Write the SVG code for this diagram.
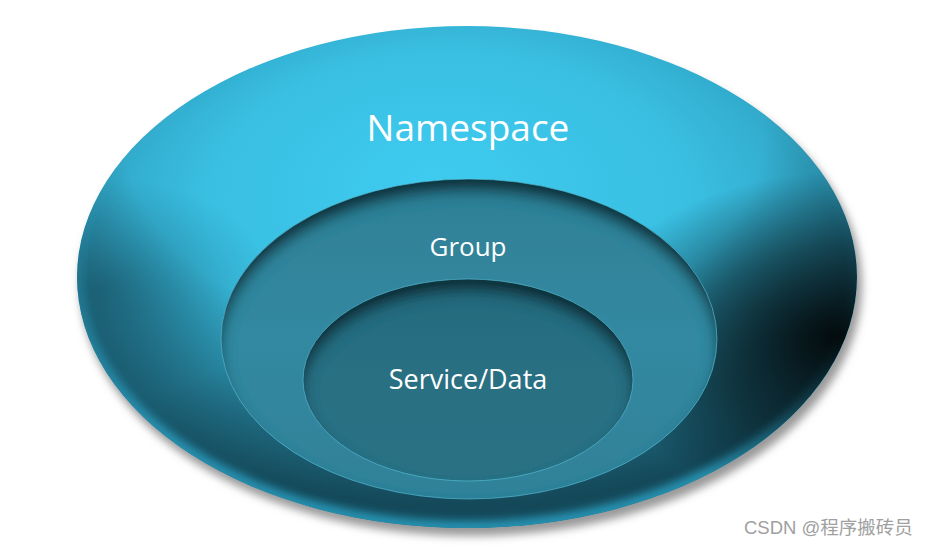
<svg xmlns="http://www.w3.org/2000/svg" width="932" height="548" viewBox="0 0 932 548">
<style>
.lbl{font-family:"Open Sans","Noto Sans","Liberation Sans",sans-serif;fill:#ffffff;text-anchor:middle}
.wm{font-family:"Liberation Sans","Noto Sans CJK SC",sans-serif;font-size:18.5px;fill:#a0a0a0}
</style>
<defs>
<clipPath id="outerClip"><ellipse cx="467" cy="277" rx="390" ry="251"/></clipPath>
<radialGradient id="outerFill" cx="0.5" cy="0.42" r="0.62" fx="0.45" fy="0.3">
<stop offset="0" stop-color="#3ECBF0"/>
<stop offset="0.5" stop-color="#39BFE2"/>
<stop offset="0.82" stop-color="#30A2C2"/>
<stop offset="1" stop-color="#2588A6"/>
</radialGradient>
<radialGradient id="shade" cx="0.47" cy="0.22" r="0.85">
<stop offset="0" stop-color="#0b2a35" stop-opacity="0"/>
<stop offset="0.48" stop-color="#0b2a35" stop-opacity="0"/>
<stop offset="0.72" stop-color="#0b2a35" stop-opacity="0.5"/>
<stop offset="0.86" stop-color="#0b2a35" stop-opacity="0.72"/>
<stop offset="1" stop-color="#0b2a35" stop-opacity="0.72"/>
</radialGradient>
<radialGradient id="darkL" cx="0.03" cy="0.52" r="0.22">
<stop offset="0" stop-color="#0b2a35" stop-opacity="0.35"/>
<stop offset="1" stop-color="#0b2a35" stop-opacity="0"/>
</radialGradient>
<linearGradient id="rimGrad" x1="0" y1="0" x2="0" y2="1">
<stop offset="0" stop-color="#2a9cbd" stop-opacity="0"/>
<stop offset="0.45" stop-color="#2a9cbd" stop-opacity="0.25"/>
<stop offset="0.8" stop-color="#2a9cbd" stop-opacity="0.85"/>
<stop offset="1" stop-color="#2a9cbd" stop-opacity="0.9"/>
</linearGradient>
<radialGradient id="darkRB" cx="0.98" cy="0.62" r="0.33">
<stop offset="0" stop-color="#000" stop-opacity="0.9"/>
<stop offset="0.55" stop-color="#000" stop-opacity="0.45"/>
<stop offset="1" stop-color="#000" stop-opacity="0"/>
</radialGradient>
<linearGradient id="groupFill" x1="0" y1="0" x2="0" y2="1">
<stop offset="0" stop-color="#2E7F95"/>
<stop offset="0.5" stop-color="#3389A1"/>
<stop offset="1" stop-color="#2F8198"/>
</linearGradient>
<linearGradient id="svcFill" x1="0" y1="0" x2="0" y2="1">
<stop offset="0" stop-color="#276A7D"/>
<stop offset="0.5" stop-color="#296F83"/>
<stop offset="1" stop-color="#2A7184"/>
</linearGradient>
<filter id="drop" x="-10%" y="-10%" width="125%" height="125%">
<feGaussianBlur stdDeviation="4"/>
</filter>
<filter id="rimBlur" x="-10%" y="-10%" width="120%" height="120%">
<feGaussianBlur stdDeviation="4"/>
</filter>
<filter id="inner" x="-5%" y="-10%" width="110%" height="120%">
<feFlood flood-color="#0c2630" flood-opacity="0.95"/>
<feComposite in2="SourceAlpha" operator="out"/>
<feOffset dy="12"/>
<feGaussianBlur stdDeviation="7"/>
<feComposite in2="SourceAlpha" operator="in" result="sh"/>
<feMerge><feMergeNode in="SourceGraphic"/><feMergeNode in="sh"/></feMerge>
</filter>
</defs>
<rect width="932" height="548" fill="#ffffff"/>
<g id="namespace">
<ellipse cx="471" cy="285" rx="391" ry="251" fill="#9a9a9a" filter="url(#drop)"/>
<ellipse cx="467" cy="277" rx="390" ry="251" fill="url(#outerFill)"/>
<g clip-path="url(#outerClip)">
<ellipse cx="467" cy="277" rx="390" ry="251" fill="url(#shade)"/>
<ellipse cx="467" cy="277" rx="390" ry="251" fill="url(#darkL)"/>
<ellipse cx="467" cy="277" rx="390" ry="251" fill="none" stroke="url(#rimGrad)" stroke-width="14" filter="url(#rimBlur)"/>
<ellipse cx="467" cy="277" rx="390" ry="251" fill="url(#darkRB)"/>
</g>
<text class="lbl" x="468" y="141" font-size="37">Namespace</text>
</g>
<g id="group">
<ellipse cx="469" cy="339" rx="248" ry="160" fill="url(#groupFill)" filter="url(#inner)"/>
<ellipse cx="469" cy="339" rx="248" ry="160" fill="none" stroke="#5cc4de" stroke-opacity="0.6" stroke-width="1"/>
<text class="lbl" x="468" y="256" font-size="26">Group</text>
</g>
<g id="service">
<ellipse cx="468" cy="380" rx="165" ry="101" fill="url(#svcFill)" filter="url(#inner)"/>
<ellipse cx="468" cy="380" rx="165" ry="101" fill="none" stroke="#5cc4de" stroke-opacity="0.6" stroke-width="1"/>
<text class="lbl" x="468" y="389" font-size="27">Service/Data</text>
</g>
<g id="connectors"></g>
<text class="wm" x="744" y="534">CSDN @程序搬砖员</text>
</svg>
